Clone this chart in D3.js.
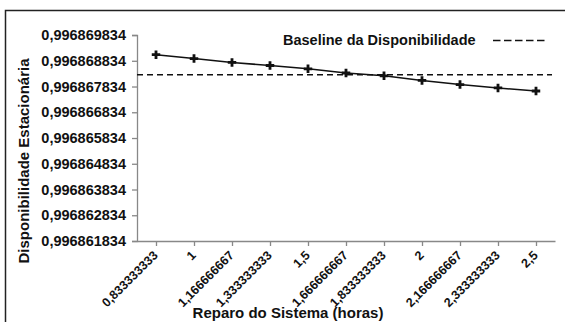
<!DOCTYPE html>
<html>
<head>
<meta charset="utf-8">
<script src="https://cdn.jsdelivr.net/npm/d3@7"></script>
<style>
  body { margin: 0; background: #fff; }
  text { font-family: "Liberation Sans", Arial, sans-serif; font-weight: bold; fill: #111; }
</style>
</head>
<body>
<svg id="chart" width="565" height="322"></svg>
<script>
// repair time (hours) categories
var repairHours = ["0,833333333", "1", "1,166666667", "1,333333333", "1,5", "1,666666667",
                   "1,833333333", "2", "2,166666667", "2,333333333", "2,5"];
// steady-state availability per repair time
var availability = [0.99686907, 0.99686892, 0.99686877, 0.99686865, 0.99686852, 0.99686836,
                    0.99686825, 0.99686807, 0.99686791, 0.99686778, 0.99686766];
var baselineValue = 0.99686829;
var yTicks = [0.996861834, 0.996862834, 0.996863834, 0.996864834, 0.996865834,
              0.996866834, 0.996867834, 0.996868834, 0.996869834];

var svg = d3.select("#chart");

// outer frame
svg.append("rect")
  .attr("x", 5.5).attr("y", 10.5)
  .attr("width", 620).attr("height", 400)
  .attr("fill", "none").attr("stroke", "#222").attr("stroke-width", 1.5);

var x = d3.scalePoint().domain(repairHours).range([137, 555]).padding(0.5);
var y = d3.scaleLinear()
  .domain([0.996861834, 0.996869834 + 1.16e-9])
  .range([241, 35]);

var fmt = function(d) { return d3.format(".9f")(d).replace(".", ","); };

// y axis
var gy = svg.append("g")
  .attr("transform", "translate(137,0)")
  .call(d3.axisLeft(y).tickValues(yTicks).tickFormat(fmt).tickSize(5).tickPadding(6));
gy.select(".domain").attr("stroke", "#888").attr("stroke-width", 1.3);
gy.selectAll(".tick line").attr("stroke", "#888").attr("stroke-width", 1.3);
gy.selectAll("text").style("font-size", "14.5px").attr("fill", "#111");

// x axis
var gx = svg.append("g")
  .attr("transform", "translate(0,241)")
  .call(d3.axisBottom(x).tickSize(5).tickSizeOuter(0));
gx.select(".domain").attr("stroke", "#888").attr("stroke-width", 1.3);
gx.selectAll(".tick line").attr("stroke", "#888").attr("stroke-width", 1.3);
gx.selectAll("text")
  .style("font-size", "12.5px")
  .attr("fill", "#111")
  .attr("text-anchor", "end")
  .attr("x", 0).attr("y", 0).attr("dy", "0.35em")
  .attr("transform", "translate(-1,12) rotate(-45)");

// baseline (dashed)
svg.append("line")
  .attr("x1", 137).attr("x2", 552)
  .attr("y1", y(baselineValue)).attr("y2", y(baselineValue))
  .attr("stroke", "#111").attr("stroke-width", 1.5)
  .attr("stroke-dasharray", "6,4");

// availability series
var line = d3.line()
  .x(function(d, i) { return x(repairHours[i]); })
  .y(function(d) { return y(d); });

svg.append("path")
  .datum(availability)
  .attr("d", line)
  .attr("fill", "none")
  .attr("stroke", "#111")
  .attr("stroke-width", 1.5);

svg.selectAll(".marker")
  .data(availability)
  .enter()
  .append("path")
    .attr("class", "marker")
    .attr("d", d3.symbol().type(d3.symbolCross).size(40))
    .attr("transform", function(d, i) { return "translate(" + x(repairHours[i]) + "," + y(d) + ")"; })
    .attr("fill", "#111");

// legend
svg.append("text")
  .attr("x", 283).attr("y", 45)
  .style("font-size", "14.5px")
  .text("Baseline da Disponibilidade");
svg.append("line")
  .attr("x1", 493).attr("x2", 548)
  .attr("y1", 40.5).attr("y2", 40.5)
  .attr("stroke", "#111").attr("stroke-width", 1.6)
  .attr("stroke-dasharray", "7.5,3.5");

// axis titles
svg.append("text")
  .attr("x", 288).attr("y", 318)
  .attr("text-anchor", "middle")
  .style("font-size", "15px")
  .text("Reparo do Sistema (horas)");

svg.append("text")
  .attr("transform", "translate(29,161) rotate(-90)")
  .attr("text-anchor", "middle")
  .style("font-size", "15px")
  .text("Disponibilidade Estacionária");
</script>
</body>
</html>
